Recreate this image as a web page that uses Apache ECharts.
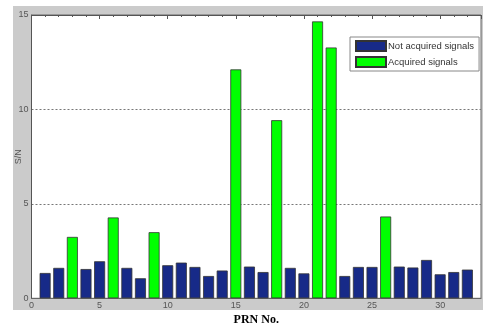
<!DOCTYPE html>
<html>
<head>
<meta charset="utf-8">
<script src="https://cdn.jsdelivr.net/npm/echarts@6/dist/echarts.min.js"></script>
<style>
html,body{margin:0;padding:0;background:#fff;}
#chart{width:488px;height:327px;}
</style>
</head>
<body>
<div id="chart"></div>
<script>
// PRN numbers (x categories)
var prnNumbers = [1,2,3,4,5,6,7,8,9,10,11,12,13,14,15,16,17,18,19,20,21,22,23,24,25,26,27,28,29,30,31,32];
// S/N values
var snrValues = [1.34,1.61,3.25,1.55,1.96,4.28,1.61,1.06,3.50,1.75,1.89,1.66,1.18,1.47,12.12,1.68,1.39,9.43,1.61,1.32,14.66,13.28,1.18,1.66,1.66,4.33,1.68,1.63,2.03,1.27,1.39,1.52];
// PRNs whose signals were acquired
var acquiredPRN = [3,6,9,15,18,21,22,26];
var xTicks = [0,5,10,15,20,25,30];
var yTicks = [0,5,10,15];
var seriesNames = ['Not acquired signals','Acquired signals'];

var notAcq = [], acq = [];
prnNumbers.forEach(function(p,i){
  if (acquiredPRN.indexOf(p) >= 0) acq.push([p, snrValues[i]]);
  else notAcq.push([p, snrValues[i]]);
});

var chart = echarts.init(document.getElementById('chart'));
var labelStyle = {color:'#555', fontSize:9, fontFamily:'Arial, Liberation Sans, sans-serif'};
chart.setOption({
  animation:false,
  backgroundColor:'#fff',
  graphic:[{type:'rect', z:-10, shape:{x:13,y:6,width:470,height:304}, style:{fill:'#cbcbcb'}}],
  grid:{left:31.5, top:15, right:7, bottom:28.7, containLabel:false, outerBoundsMode:'none',
        show:true, backgroundColor:'#fff', borderColor:'#666', borderWidth:1, z:0},
  legend:{
    left:350, top:37, orient:'vertical', itemWidth:30, itemHeight:10, itemGap:4,
    padding:[3,5,3,5], backgroundColor:'#fff', borderColor:'#888', borderWidth:1,
    textStyle:{color:'#333', fontSize:9.5, fontFamily:'Arial, Liberation Sans, sans-serif', padding:[0,0,0,-3]},
    data:seriesNames.map(function(n){return {name:n, icon:'rect'};})
  },
  xAxis:[{
    type:'value', min:0, max:33, interval:5,
    name:'PRN No.', nameLocation:'middle', nameGap:16, nameMoveOverlap:false,
    nameTextStyle:{fontFamily:'Liberation Serif, Times New Roman, serif', fontWeight:'bold', fontSize:12, color:'#000'},
    axisLine:{show:true, lineStyle:{color:'#666'}},
    axisTick:{show:false},
    axisLabel:Object.assign({margin:3, formatter:function(v){return xTicks.indexOf(v)>=0? String(v):'';}}, labelStyle),
    splitLine:{show:false}
  },{
    type:'value', min:0, max:33, interval:5, position:'top',
    axisLine:{show:true, lineStyle:{color:'#555'}},
    axisTick:{show:true, inside:true, length:4, lineStyle:{color:'#555'}},
    minorTick:{show:true, splitNumber:5, length:2, lineStyle:{color:'#555'}},
    axisLabel:{show:false}, splitLine:{show:false}
  }],
  yAxis:{
    type:'value', min:0, max:15, interval:5,
    name:'S/N', nameLocation:'middle', nameGap:8, nameMoveOverlap:false,
    nameTextStyle:{color:'#555', fontSize:9, fontFamily:'Arial, Liberation Sans, sans-serif'},
    axisLine:{show:true, lineStyle:{color:'#555'}},
    axisTick:{show:false},
    axisLabel:Object.assign({margin:3, formatter:function(v){return yTicks.indexOf(v)>=0? String(v):'';}}, labelStyle),
    splitLine:{show:true, lineStyle:{color:'#777', type:[2,2], width:1}}
  },
  series:[{
    name:seriesNames[0], type:'bar', data:notAcq, barWidth:11, barGap:'-100%',
    itemStyle:{color:'#172a88', borderColor:'#333', borderWidth:0.8}
  },{
    name:seriesNames[1], type:'bar', data:acq, barWidth:11, barGap:'-100%',
    itemStyle:{color:'#00ff00', borderColor:'#333', borderWidth:0.8}
  }]
});
</script>
</body>
</html>
